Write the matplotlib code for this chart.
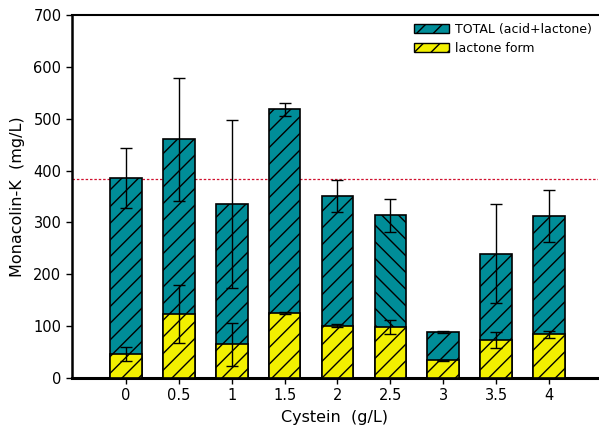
import numpy as np
import matplotlib
matplotlib.use('Agg')
import matplotlib.pyplot as plt
from matplotlib.patches import Patch

# Data
cystein = ['0', '0.5', '1', '1.5', '2', '2.5', '3', '3.5', '4']
total = [385, 460, 335, 518, 351, 314, 88, 240, 312]
total_err = [58, 119, 162, 13, 31, 32, 2, 95, 50]
lactone = [46, 123, 65, 125, 101, 98, 34, 73, 84]
lactone_err = [13, 56, 41, 2, 3, 14, 1, 16, 6]
control_level = 384

plt.rcParams['font.family'] = ['DejaVu Sans']
plt.rcParams['hatch.linewidth'] = 1.0

teal = '#008d98'
yellow = '#f2f000'

fig = plt.figure(figsize=(5.99, 4.30), dpi=100)
ax = fig.add_axes([0.120, 0.121, 0.878, 0.844])

x = np.arange(len(cystein))
w = 0.6

# total bars (the one at 2.5 is hatched the other way in the original)
hatches = ['//'] * len(cystein)
hatches[5] = '\\\\'
for i in range(len(x)):
    ax.bar(x[i], total[i], width=w, color=teal, edgecolor='black',
           linewidth=1.2, hatch=hatches[i], zorder=2)
ax.bar(x, lactone, width=w, color=yellow, edgecolor='black',
       linewidth=1.2, hatch='//', zorder=3)

ax.errorbar(x, total, yerr=total_err, fmt='none', ecolor='black',
            elinewidth=1, capsize=4, capthick=1, zorder=4)
ax.errorbar(x, lactone, yerr=lactone_err, fmt='none', ecolor='black',
            elinewidth=1, capsize=4, capthick=1, zorder=4)

ax.axhline(control_level, color='#d0102e', linestyle=(0, (2, 1.5)),
           linewidth=0.9, zorder=1)

ax.set_xlim(-1.02, 8.92)
ax.set_ylim(0, 700)
ax.set_xticks(x)
ax.set_xticklabels(cystein)
ax.set_yticks(np.arange(0, 701, 100))
ax.tick_params(axis='both', labelsize=10.5, length=4, width=1, direction='out')

ax.spines['right'].set_visible(False)
ax.spines['left'].set_linewidth(1.8)
ax.spines['bottom'].set_linewidth(2.2)
ax.spines['top'].set_linewidth(1.5)

ax.set_xlabel('Cystein  (g/L)', fontsize=11.5, labelpad=5)
ax.set_ylabel('Monacolin-K  (mg/L)', fontsize=11.5, labelpad=6)

handles = [Patch(facecolor=teal, edgecolor='black', hatch='//'),
           Patch(facecolor=yellow, edgecolor='black', hatch='//')]
ax.legend(handles, ['TOTAL (acid+lactone)', 'lactone form'],
          loc='upper right', bbox_to_anchor=(1.01, 1.01), frameon=False,
          fontsize=9, handlelength=2.8, handleheight=0.8,
          labelspacing=0.5, handletextpad=0.5)

fig.savefig('out.png', dpi=100)
